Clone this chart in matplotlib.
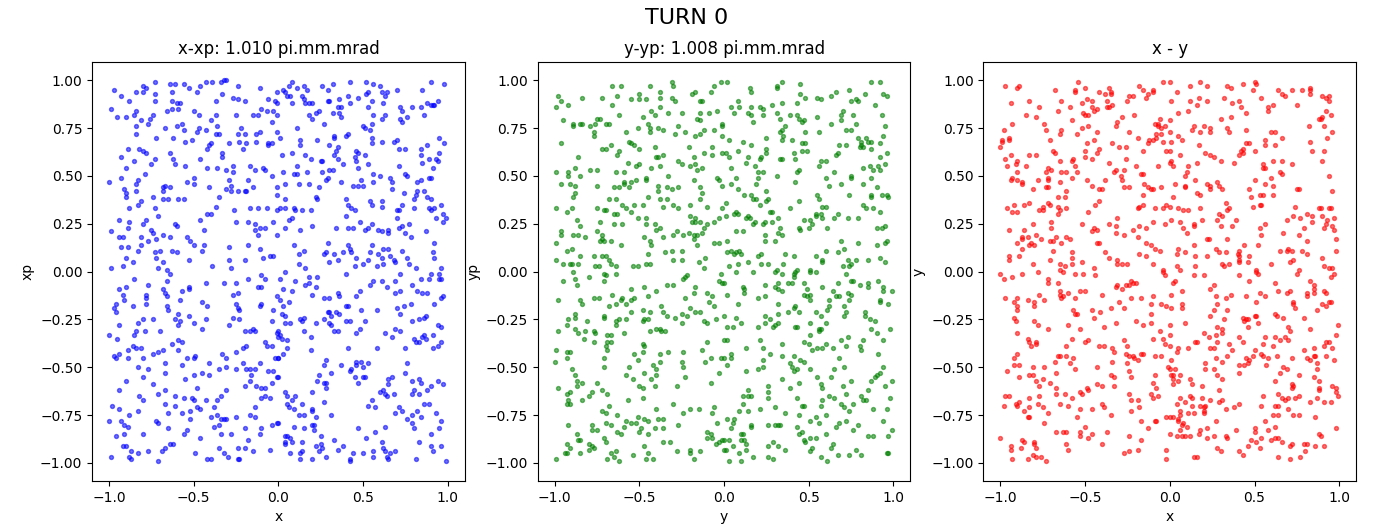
import numpy as np
import matplotlib
matplotlib.use("Agg")
import matplotlib.pyplot as plt

# Particle coordinates at turn 0, in hundredths of the normalised unit.
# Each list holds (horizontal, vertical) pairs for one phase-space view.
x_xp = [
    (-73,99),(-64,98),(-61,98),(-56,98),(-53,96),(-46,97),(-43,99),(-39,99),(-34,99),(-32,100),(-31,100),(-24,97),(-11,96),(-97,95),(-80,97),(-78,96),(-84,94),(-80,94),(-73,93),(-63,94),(-48,94),(-33,93),(-1,94),(-93,92),(-27,91),(-24,90),(-20,89),(-6,90),(-2,89),(-1,88),(-88,89),(-73,89),(-63,89),(-60,88),(-58,88),(-59,85),(-63,85),(-66,84),(-37,89),(-99,85),(-84,84),(-85,82),(-95,81),(-90,81),(-74,82),(-76,80),(-81,79),(-50,84),(-47,82),(-37,82),(-25,82),(-15,82),(-12,82),(-10,85),(-7,84),(-3,84),(-1,82),(-4,78),(-40,79),(-57,77),(-60,76),(-77,77),(-84,76),(-84,72),(-67,75),(-56,74),(-47,75),(-48,73),(-43,74),(-36,76),(-22,75),(-24,72),(-20,72),(-13,72),(-11,73),(-37,72),(-35,72),(-1,73),(-72,70),(-62,70),(-55,68),(-51,69),(-41,66),(-40,67),(-42,64),(-29,67),(-23,68),(-19,67),(-13,68),(-6,67),(-4,67),(-6,66),(-89,64),(-82,64),(-80,63),(-78,62),(-64,62),(-33,62),(-33,60),(-21,64),(-93,60),(-85,58),(-73,59),(-62,59),(-46,59),(-61,56),(-55,55),(-75,56),(-90,54),(-42,54),(-36,54),(-31,53),(-27,55),(-27,52),(-17,55),(-14,53),(-9,54),(-8,53),(-4,50),(-79,51),(-83,48),(-84,46),(-93,49),(-100,47),(-67,45),(-68,44),(-64,44),(-54,47),(-50,49),(-50,46),(-41,44),(-29,48),(-28,45),(-18,48),(-91,43),(-84,42),(-90,41),(-90,39),(-68,42),(-68,38),(-65,38),(-59,38),(-56,38),(-35,39),(-31,43),(-28,42),(-24,42),(-20,42),(-19,42),(-15,44),(-1,44),(-1,40),(-81,37),(-83,35),(-74,39),(-88,33),(-73,33),(-37,34),(-26,32),(-17,33),(-12,33),(-7,33),(-1,32),(-71,29),(-78,27),(-94,27),(-88,26),(-89,23),(-80,25),(-75,22),(-74,20),(-68,19),(-61,25),(-60,24),(-46,27),(-42,30),(-40,30),(-44,22),(-25,26),(-18,26),(-14,25),(-14,22),(-11,23),(-8,23),(-3,26),(-99,21),(-94,18),(-92,18),(-81,18),(-77,16),(-72,17),(-64,18),(-54,18),(-52,16),(-50,14),(-44,14),(-29,13),(-18,14),(-11,12),(-12,19),(-1,19),(-93,13),(-89,13),(-83,11),(-81,14),(-73,10),(-70,11),(-63,11),(-60,10),(-45,11),(-90,7),(-86,5),(-92,3),(-72,7),(-68,5),(-71,2),(-66,1),(-53,6),(-39,3),(-29,6),(-28,2),(-20,6),(-9,7),(-5,8),(-3,8),(-99,2),
    (8,99),(6,97),(3,95),(4,94),(11,96),(15,97),(17,95),(5,92),(7,92),(14,92),(15,90),(8,88),(18,88),(20,88),(16,88),(26,97),(32,98),(29,95),(42,99),(52,99),(56,98),(60,97),(53,94),(52,93),(61,94),(64,94),(63,92),(70,95),(85,95),(90,99),(98,98),(29,89),(30,89),(36,90),(41,92),(47,91),(42,88),(35,86),(37,86),(36,83),(32,83),(37,81),(55,89),(53,86),(56,82),(62,88),(63,82),(61,80),(72,86),(73,84),(72,80),(73,78),(76,81),(79,86),(84,86),(86,82),(88,88),(90,87),(91,87),(94,89),(92,87),(22,83),(24,84),(18,82),(20,80),(27,77),(11,75),(50,76),(51,75),(55,77),(54,74),(41,72),(40,71),(33,71),(33,70),(1,70),(13,69),(13,66),(23,69),(30,66),(35,65),(34,63),(33,61),(46,63),(47,62),(51,61),(45,60),(46,58),(55,70),(55,67),(61,68),(68,68),(70,69),(71,64),(75,64),(84,64),(88,66),(95,70),(98,67),(95,62),(93,59),(94,58),(89,59),(84,61),(85,57),(91,54),(2,61),(8,62),(16,61),(19,59),(25,58),(26,58),(35,59),(38,56),(47,54),(53,56),(71,55),(11,55),(17,52),(3,52),(9,51),(11,51),(26,52),(30,53),(32,53),(29,49),(28,48),(37,47),(12,46),(18,46),(24,44),(4,46),(44,45),(47,45),(50,45),(49,48),(56,51),(56,47),(60,50),(66,49),(67,47),(67,43),(74,41),(75,51),(76,50),(82,47),(84,48),(89,49),(90,49),(86,42),(88,39),(90,38),(82,42),(81,40),(80,38),(22,39),(23,38),(4,38),(40,38),(41,35),(43,33),(45,32),(54,37),(55,35),(61,37),(61,34),(70,32),(71,32),(73,35),(80,33),(89,33),(90,32),(92,33),(96,35),(93,28),(97,30),(99,28),(97,26),(1,33),(4,33),(9,33),(10,32),(14,32),(19,32),(8,28),(6,27),(4,23),(13,22),(20,24),(34,23),(41,23),(44,23),(40,29),(48,26),(51,22),(53,23),(55,25),(59,22),(61,21),(65,22),(65,20),(70,28),(71,23),(73,24),(77,25),(75,20),(78,18),(87,21),(92,15),(9,14),(12,9),(15,11),(12,4),(16,2),(29,15),(27,9),(28,10),(33,9),(30,5),(35,6),(38,10),(41,14),(42,12),(43,10),(46,7),(45,3),(50,4),(53,6),(55,14),(54,10),(59,9),(58,3),(62,12),(65,12),(61,7),(62,4),(66,8),(68,6),(69,5),(73,11),(76,7),(77,4),(81,2),(91,10),(92,7),(96,2),
    (-64,-1),(-85,-4),(-77,-7),(-66,-5),(-53,-8),(-53,-9),(-43,-6),(-32,-6),(-25,-6),(-18,-4),(-10,-2),(-8,-4),(-12,-8),(-10,-8),(-94,-9),(-90,-8),(-92,-12),(-91,-15),(-78,-12),(-78,-14),(-78,-17),(-68,-9),(-67,-11),(-66,-13),(-57,-10),(-58,-15),(-96,-17),(-97,-19),(-96,-21),(-86,-18),(-66,-18),(-65,-20),(-59,-22),(-53,-23),(-45,-16),(-42,-18),(-27,-12),(-24,-11),(-25,-17),(-24,-19),(-23,-20),(-10,-17),(-11,-18),(-1,-13),(-3,-20),(-80,-25),(-74,-25),(-83,-27),(-84,-31),(-85,-33),(-94,-28),(-100,-33),(-95,-35),(-79,-31),(-70,-31),(-61,-25),(-58,-26),(-59,-28),(-50,-27),(-45,-30),(-43,-25),(-29,-28),(-27,-24),(-23,-25),(-20,-31),(-17,-31),(-15,-30),(-14,-31),(-4,-26),(-1,-32),(0,-34),(-59,-36),(-57,-37),(-63,-38),(-81,-40),(-84,-40),(-86,-39),(-89,-41),(-94,-43),(-97,-44),(-96,-45),(-89,-45),(-80,-45),(-74,-43),(-71,-42),(-68,-41),(-59,-41),(-67,-48),(-57,-49),(-54,-45),(-50,-45),(-49,-44),(-41,-48),(-45,-53),(-41,-54),(-35,-51),(-33,-43),(-31,-45),(-31,-50),(-25,-42),(-25,-51),(-21,-40),(-19,-39),(-21,-48),(-19,-51),(-17,-51),(-14,-51),(-11,-48),(-8,-37),(-7,-39),(-4,-39),(-2,-45),(0,-45),(-6,-52),(-3,-52),(-1,-55),(-16,-54),(-17,-57),(-83,-50),(-77,-51),(-80,-55),(-67,-53),(-55,-56),(-50,-54),(-90,-57),(-74,-59),(-94,-62),(-82,-65),(-80,-67),(-71,-64),(-67,-62),(-61,-65),(-56,-66),(-51,-66),(-50,-67),(-48,-61),(-43,-67),(-38,-71),(-36,-67),(-34,-65),(-31,-62),(-20,-60),(-13,-60),(-10,-61),(-8,-61),(-4,-58),(-8,-65),(-10,-66),(-5,-66),(-98,-70),(-94,-72),(-83,-73),(-88,-75),(-67,-69),(-65,-74),(-61,-70),(-57,-74),(-52,-73),(-48,-71),(-46,-72),(-52,-77),(-40,-76),(-36,-75),(-34,-77),(-32,-77),(-31,-77),(-25,-76),(-17,-75),(-14,-71),(-14,-76),(-100,-78),(-93,-78),(-91,-80),(-89,-81),(-91,-85),(-96,-86),(-72,-78),(-71,-79),(-65,-82),(-80,-85),(-56,-85),(-54,-83),(-46,-87),(-38,-81),(-35,-80),(-34,-85),(-28,-85),(-20,-82),(-10,-82),(-11,-85),(-4,-80),(-1,-79),(-18,-88),(-92,-91),(-90,-91),(-87,-94),(-88,-97),(-87,-98),(-83,-95),(-77,-94),(-71,-99),(-69,-94),(-67,-92),(-64,-90),(-62,-90),(-99,-97),(-49,-95),(-42,-98),(-40,-98),(-35,-92),(-32,-95),(-30,-97),(-24,-98),(-23,-98),(-24,-92),(-20,-92),(-15,-94),(-5,-93),
    (4,0),(40,-1),(72,-1),(90,-1),(95,-1),(18,-3),(23,-3),(1,-4),(10,-5),(16,-7),(18,-6),(22,-8),(3,-9),(8,-10),(20,-12),(27,-14),(30,-14),(35,-11),(36,-13),(46,-13),(48,-10),(54,-7),(56,-5),(61,-5),(64,-8),(69,-5),(69,-11),(72,-10),(79,-7),(82,-10),(85,-11),(88,-11),(84,-4),(89,-4),(95,-4),(96,-4),(97,-13),(96,-14),(92,-17),(1,-15),(3,-18),(6,-16),(2,-22),(4,-23),(4,-27),(7,-27),(13,-25),(14,-26),(15,-24),(15,-31),(22,-27),(27,-25),(29,-21),(30,-21),(31,-23),(30,-27),(31,-28),(34,-21),(36,-22),(33,-31),(35,-31),(40,-18),(41,-18),(49,-20),(40,-26),(42,-26),(51,-26),(48,-30),(46,-32),(58,-20),(70,-19),(72,-22),(74,-18),(78,-17),(87,-23),(86,-24),(83,-25),(79,-26),(94,-28),(96,-29),(86,-33),(85,-34),(87,-35),(83,-37),(81,-37),(80,-35),(91,-33),(94,-39),(96,-37),(91,-40),(0,-31),(1,-33),(2,-35),(5,-36),(63,-32),(67,-34),(69,-30),(72,-31),(75,-40),(0,-45),(3,-43),(5,-40),(19,-34),(19,-41),(41,-40),(58,-40),(28,-46),(27,-49),(37,-49),(42,-52),(43,-51),(46,-47),(46,-49),(49,-47),(50,-50),(53,-48),(45,-55),(47,-58),(50,-55),(51,-55),(31,-53),(24,-54),(23,-57),(27,-58),(28,-58),(28,-61),(20,-63),(0,-55),(4,-63),(5,-65),(8,-67),(10,-65),(5,-69),(6,-71),(9,-72),(14,-69),(12,-75),(15,-75),(20,-72),(20,-73),(22,-76),(27,-68),(31,-75),(65,-56),(67,-55),(65,-59),(60,-63),(62,-62),(64,-65),(63,-64),(68,-64),(55,-67),(53,-70),(57,-71),(75,-53),(76,-48),(79,-57),(83,-56),(84,-58),(80,-62),(79,-64),(83,-64),(88,-62),(90,-60),(94,-57),(97,-59),(86,-69),(89,-69),(71,-71),(69,-74),(73,-73),(76,-77),(79,-75),(82,-73),(84,-76),(79,-79),(80,-82),(93,-74),(96,-78),(95,-82),(90,-85),(83,-89),(90,-91),(91,-94),(96,-91),(99,-99),(81,-98),(0,-79),(9,-81),(15,-82),(20,-80),(21,-80),(21,-83),(25,-86),(4,-86),(5,-86),(7,-87),(8,-89),(4,-89),(4,-90),(14,-89),(7,-95),(13,-95),(14,-94),(13,-98),(20,-98),(22,-91),(24,-94),(25,-90),(26,-92),(28,-97),(33,-88),(35,-93),(38,-91),(47,-82),(44,-95),(42,-98),(42,-99),(50,-95),(52,-87),(57,-84),(56,-94),(56,-97),(61,-89),(63,-81),(62,-92),(63,-94),(64,-97),(65,-98),(66,-95),(69,-94),
]

y_yp = [
    (-31,99),(-30,97),(-44,97),(-66,97),(-61,97),(-98,92),(-84,91),(-72,91),(-63,92),(-55,90),(-50,93),(-50,90),(-46,90),(-38,94),(-38,91),(-31,91),(-29,89),(-19,93),(-17,94),(-14,89),(-13,89),(-8,94),(-6,97),(-2,99),(-96,89),(-92,87),(-99,86),(-66,87),(-62,82),(-48,81),(-43,84),(-41,82),(-38,86),(-33,83),(-25,83),(-14,83),(-16,80),(-14,79),(-9,83),(-4,84),(-1,77),(-1,76),(-95,79),(-89,77),(-89,76),(-85,77),(-84,77),(-79,76),(-76,77),(-75,80),(-73,80),(-70,77),(-68,77),(-77,73),(-77,71),(-58,73),(-51,75),(-45,77),(-44,75),(-44,73),(-39,75),(-36,74),(-29,72),(-27,76),(-23,73),(-17,71),(-14,72),(-12,74),(-6,74),(-1,71),(-96,67),(-56,68),(-55,67),(-53,66),(-67,66),(-72,64),(-70,64),(-62,63),(-63,61),(-50,64),(-41,65),(-40,60),(-39,60),(-36,61),(-21,65),(-12,62),(-7,65),(-7,61),(-1,62),(-86,60),(-57,57),(-52,55),(-50,56),(-43,54),(-38,55),(-27,58),(-25,56),(-20,55),(-17,56),(-18,60),(-16,53),(-13,54),(-88,54),(-92,52),(-92,50),(-99,52),(-85,50),(-79,53),(-75,53),(-64,52),(-59,52),(-46,49),(-46,48),(-55,47),(-52,48),(-59,46),(-33,50),(-18,48),(-4,49),(-3,48),(-96,46),(-91,46),(-88,45),(-88,41),(-89,39),(-75,45),(-65,44),(-62,44),(-59,47),(-56,44),(-39,45),(-34,44),(-31,43),(-27,44),(-39,42),(-14,44),(-13,41),(-14,38),(-1,45),(-68,38),(-64,38),(-60,35),(-58,33),(-53,35),(-48,35),(-45,39),(-38,38),(-34,38),(-36,34),(-30,35),(-27,33),(-20,35),(-10,34),(-1,33),(-99,33),(-90,33),(-93,31),(-75,33),(-71,32),(-70,32),(-65,30),(-63,30),(-55,31),(-51,28),(-46,28),(-46,25),(-65,25),(-60,25),(-73,26),(-87,27),(-85,24),(-96,21),(-96,19),(-99,15),(-89,19),(-86,19),(-82,18),(-75,21),(-72,19),(-72,17),(-73,16),(-71,16),(-67,16),(-61,14),(-41,25),(-38,23),(-40,22),(-36,18),(-47,18),(-44,16),(-43,14),(-20,29),(-17,28),(-19,26),(-17,26),(-14,26),(-12,23),(-10,25),(-6,26),(-3,28),(-28,21),(-30,19),(-24,19),(-21,20),(-18,19),(-18,17),(-16,19),(-13,20),(-16,14),(-6,15),(-3,15),(-93,11),(-90,12),(-85,8),(-99,6),(-95,4),(-91,4),(-90,4),(-86,4),(-77,8),(-72,8),(-70,8),(-76,3),(-74,3),(-68,6),(-67,4),(-64,3),(-54,3),(-51,3),(-46,4),(-44,4),(-45,9),(-35,10),(-31,11),(-25,11),(-30,6),(-25,6),(-15,5),(-11,7),(-12,2),
    (2,99),(15,96),(16,94),(31,97),(31,96),(34,99),(45,98),(45,93),(48,91),(55,91),(57,90),(63,92),(66,94),(74,95),(78,90),(79,89),(83,93),(87,99),(92,99),(94,93),(96,92),(4,86),(8,89),(9,86),(6,83),(14,83),(16,86),(16,82),(17,78),(21,86),(23,85),(23,82),(28,87),(31,83),(33,80),(34,88),(39,82),(43,82),(44,80),(43,88),(46,78),(47,79),(55,81),(69,79),(69,82),(70,84),(76,82),(75,89),(63,77),(78,77),(89,87),(93,82),(95,76),(36,76),(34,74),(33,73),(35,71),(34,69),(25,70),(48,73),(56,73),(40,69),(46,67),(48,67),(72,74),(75,74),(79,70),(81,68),(84,70),(85,68),(87,68),(80,65),(82,65),(81,66),(87,64),(92,67),(94,71),(96,62),(92,60),(3,69),(11,68),(8,63),(16,66),(25,64),(25,62),(14,60),(3,60),(1,62),(22,60),(21,59),(13,57),(18,55),(20,52),(23,52),(4,54),(33,59),(34,59),(41,62),(46,63),(49,63),(42,59),(43,52),(44,53),(42,47),(31,50),(57,58),(60,58),(56,55),(66,61),(67,62),(68,66),(65,52),(60,49),(62,45),(69,46),(75,50),(75,49),(72,66),(82,54),(86,55),(88,53),(91,55),(92,53),(95,56),(87,49),(82,46),(90,44),(87,40),(87,39),(93,40),(96,40),(97,39),(74,40),(7,49),(4,46),(8,43),(12,40),(16,40),(17,38),(19,38),(19,46),(20,49),(25,42),(25,37),(26,38),(21,35),(44,37),(55,40),(56,38),(58,34),(60,34),(39,33),(1,36),(7,31),(6,30),(8,30),(1,29),(14,29),(13,28),(15,28),(18,26),(17,25),(23,25),(24,26),(28,31),(27,31),(32,28),(28,26),(33,23),(32,20),(34,19),(30,16),(24,19),(24,16),(7,21),(11,21),(2,16),(47,27),(44,23),(45,22),(50,23),(51,27),(52,25),(54,30),(54,29),(57,30),(58,28),(61,23),(65,28),(67,30),(73,28),(79,28),(82,35),(84,33),(88,33),(92,31),(90,23),(93,23),(95,24),(79,15),(90,14),(95,15),(96,16),(69,16),(71,12),(67,10),(60,11),(2,10),(4,11),(7,10),(6,9),(9,11),(10,9),(8,4),(3,3),(20,8),(22,9),(14,5),(22,4),(26,4),(31,1),(36,9),(35,4),(41,8),(43,1),(54,8),(58,6),(58,5),(51,1),(70,3),(73,6),(75,4),(74,3),(78,6),(85,6),(92,7),(95,5),
    (-89,0),(-95,-5),(-88,-4),(-87,-7),(-80,-3),(-71,-1),(-70,-2),(-71,-5),(-64,-1),(-24,-4),(-23,-3),(-22,-2),(-2,-1),(-3,-5),(-1,-6),(-55,-9),(-47,-8),(-40,-10),(-34,-7),(-30,-7),(-17,-8),(-18,-11),(-10,-11),(-7,-13),(-9,-16),(-23,-14),(-98,-15),(-85,-15),(-84,-17),(-77,-14),(-74,-14),(-66,-12),(-68,-18),(-64,-17),(-61,-15),(-60,-14),(-58,-17),(-55,-15),(-53,-14),(-45,-13),(-37,-18),(-36,-21),(-34,-23),(-48,-20),(-44,-21),(-45,-25),(-47,-25),(-48,-26),(-55,-21),(-20,-19),(-17,-21),(-14,-21),(-25,-22),(-29,-24),(-25,-27),(-22,-23),(-12,-26),(-10,-27),(-5,-25),(0,-23),(-6,-18),(-88,-22),(-88,-24),(-92,-25),(-93,-28),(-88,-30),(-86,-32),(-82,-31),(-83,-35),(-81,-26),(-77,-31),(-76,-32),(-71,-23),(-71,-24),(-64,-26),(-62,-25),(-64,-28),(-58,-25),(-69,-33),(-67,-33),(-59,-32),(-98,-31),(-77,-37),(-69,-37),(-67,-37),(-70,-39),(-69,-41),(-71,-45),(-71,-50),(-99,-41),(-93,-42),(-91,-42),(-93,-45),(-100,-47),(-90,-51),(-88,-54),(-87,-57),(-84,-58),(-87,-60),(-98,-61),(-93,-64),(-91,-63),(-92,-67),(-93,-69),(-91,-69),(-84,-67),(-80,-65),(-78,-63),(-75,-58),(-72,-62),(-69,-64),(-48,-38),(-47,-39),(-53,-43),(-51,-46),(-48,-42),(-56,-50),(-58,-54),(-54,-56),(-50,-60),(-48,-61),(-47,-53),(-43,-56),(-42,-49),(-40,-51),(-40,-54),(-41,-60),(-48,-66),(-57,-67),(-44,-31),(-40,-30),(-38,-30),(-37,-31),(-35,-31),(-38,-43),(-38,-47),(-33,-42),(-24,-42),(-25,-47),(-24,-50),(-23,-55),(-28,-60),(-13,-41),(-10,-37),(-8,-45),(-11,-47),(-2,-45),(-3,-53),(-8,-58),(0,-36),(-30,-69),(-24,-74),(-20,-72),(-15,-72),(-6,-71),(-7,-74),(-4,-79),(-1,-88),(-3,-89),(-5,-90),(-7,-87),(-8,-85),(-10,-84),(-10,-87),(0,-93),(-14,-94),(-18,-98),(-20,-93),(-20,-95),(-28,-94),(-32,-89),(-36,-89),(-27,-80),(-36,-77),(-36,-82),(-39,-77),(-40,-72),(-41,-82),(-45,-78),(-47,-77),(-51,-76),(-52,-79),(-50,-84),(-49,-82),(-45,-85),(-47,-91),(-45,-95),(-46,-98),(-42,-98),(-54,-96),(-63,-75),(-68,-70),(-72,-73),(-70,-74),(-70,-79),(-67,-80),(-63,-84),(-61,-85),(-59,-81),(-58,-78),(-55,-79),(-92,-80),(-78,-80),(-78,-83),(-75,-83),(-87,-85),(-86,-88),(-85,-88),(-80,-90),(-78,-91),(-77,-92),(-80,-93),(-93,-90),(-91,-92),(-94,-95),(-93,-95),(-85,-95),(-71,-87),(-70,-89),(-67,-95),(-64,-94),(-69,-98),(-65,-97),(-62,-99),(-99,-98),
    (7,0),(17,0),(30,0),(34,-1),(41,-1),(42,0),(51,0),(54,0),(72,-1),(0,-6),(2,-12),(11,-8),(12,-9),(12,-11),(24,-7),(30,-8),(32,-6),(32,-9),(34,-10),(38,-6),(40,-6),(41,-3),(47,-6),(49,-9),(47,-12),(49,-13),(51,-12),(51,-15),(58,-8),(64,-10),(67,-6),(66,-13),(68,-13),(62,-15),(62,-18),(61,-20),(73,-11),(75,-12),(74,-15),(75,-5),(76,-5),(80,-7),(85,-6),(85,-8),(91,-5),(94,-8),(94,-10),(99,-10),(92,-15),(92,-16),(97,-17),(71,-18),(72,-21),(71,-23),(83,-21),(83,-23),(86,-25),(89,-26),(87,-30),(90,-32),(98,-30),(94,-36),(91,-43),(82,-36),(80,-39),(81,-41),(73,-34),(72,-39),(69,-36),(68,-45),(71,-50),(65,-51),(63,-55),(58,-40),(55,-40),(52,-41),(50,-38),(51,-33),(51,-27),(56,-30),(56,-31),(57,-30),(60,-27),(54,-21),(57,-23),(64,-40),(60,-38),(47,-37),(41,-44),(39,-48),(40,-50),(41,-52),(43,-51),(45,-46),(47,-47),(51,-51),(55,-55),(34,-38),(34,-44),(27,-43),(23,-46),(23,-50),(20,-51),(23,-40),(21,-36),(13,-40),(4,-43),(4,-45),(2,-49),(0,-45),(2,-36),(2,-29),(5,-29),(7,-24),(10,-27),(8,-17),(20,-14),(24,-13),(32,-17),(32,-22),(38,-21),(42,-18),(41,-19),(44,-21),(24,-23),(24,-27),(27,-25),(29,-29),(30,-28),(32,-27),(20,-29),(42,-29),(43,-29),(13,-52),(34,-56),(44,-58),(39,-61),(26,-60),(26,-63),(26,-66),(14,-62),(14,-65),(16,-65),(11,-65),(11,-69),(9,-73),(14,-73),(21,-72),(30,-71),(36,-74),(44,-75),(46,-70),(47,-70),(43,-66),(57,-70),(58,-67),(57,-59),(58,-61),(62,-65),(65,-66),(69,-69),(71,-71),(74,-73),(70,-60),(72,-64),(75,-57),(76,-69),(81,-65),(82,-67),(84,-67),(85,-62),(87,-57),(89,-55),(90,-54),(92,-53),(94,-50),(95,-60),(99,-57),(98,-66),(88,-72),(96,-72),(94,-78),(99,-83),(97,-86),(96,-95),(97,-95),(79,-80),(76,-83),(72,-78),(68,-79),(66,-81),(60,-75),(54,-76),(51,-78),(56,-79),(60,-85),(64,-90),(63,-92),(67,-96),(57,-97),(61,-99),(52,-92),(51,-94),(51,-87),(54,-87),(47,-88),(48,-89),(44,-85),(46,-84),(43,-81),(32,-80),(33,-80),(30,-80),(26,-80),(16,-80),(16,-81),(26,-91),(29,-89),(32,-91),(36,-93),(26,-97),(29,-98),(17,-97),(10,-85),(11,-85),(10,-88),(12,-88),(13,-90),(13,-93),(4,-82),(2,-77),(6,-77),(5,-79),(3,-88),(5,-91),(9,-95),(3,-99),(10,-99),(74,-96),(81,-96),(78,-93),(85,-86),(88,-86),(0,-88),(1,-93),
]

x_y = [
    (-97,97),(-90,96),(-89,97),(-68,95),(-56,95),(-56,94),(-54,99),(-50,96),(-42,94),(-38,93),(-36,96),(-35,93),(-35,94),(-24,92),(-22,92),(-25,89),(-18,97),(-16,95),(-13,93),(-10,95),(-10,94),(-4,99),(-94,88),(-83,89),(-77,86),(-64,89),(-66,84),(-59,86),(-52,88),(-49,90),(-46,89),(-46,86),(-43,85),(-45,84),(-48,82),(-51,83),(-50,82),(-37,89),(-36,86),(-34,87),(-37,86),(-28,81),(-21,82),(-31,78),(-32,76),(-24,73),(-19,70),(-14,91),(-85,82),(-79,81),(-93,77),(-74,77),(-73,74),(-58,79),(-48,76),(-52,75),(-55,72),(-65,72),(-64,74),(-71,69),(-43,73),(-45,69),(-49,67),(-34,67),(-30,65),(-26,65),(-16,63),(-13,67),(-10,69),(-8,70),(-12,69),(-6,80),(-7,77),(-9,77),(-7,76),(-5,75),(-3,76),(-5,72),(-8,72),(-4,68),(-2,63),(-7,55),(-98,74),(-99,68),(-99,69),(-100,65),(-95,70),(-95,69),(-97,59),(-94,61),(-96,55),(-90,58),(-91,56),(-83,61),(-79,61),(-85,55),(-90,52),(-93,49),(-94,48),(-90,48),(-87,47),(-87,46),(-78,48),(-81,43),(-73,52),(-72,54),(-72,49),(-72,48),(-70,53),(-69,63),(-68,62),(-65,58),(-64,52),(-61,52),(-58,58),(-57,59),(-56,55),(-55,52),(-58,49),(-65,47),(-73,44),(-72,44),(-50,63),(-50,60),(-46,59),(-42,64),(-43,62),(-36,57),(-32,53),(-33,52),(-29,50),(-28,48),(-27,53),(-26,59),(-20,55),(-17,51),(-16,51),(-49,48),(-46,45),(-42,43),(-40,43),(-38,48),(-27,44),(-24,44),(-15,46),(-13,44),(-11,43),(-10,43),(-5,44),(-16,40),(-9,33),(-4,33),(-2,35),(-19,33),(-18,34),(-16,35),(-31,28),(-32,24),(-32,20),(-36,25),(-27,19),(-44,35),(-42,37),(-48,31),(-45,23),(-43,22),(-46,21),(-43,15),(-42,15),(-38,10),(-52,25),(-61,33),(-61,42),(-62,39),(-66,39),(-66,34),(-65,32),(-66,30),(-70,26),(-70,23),(-72,36),(-71,35),(-75,34),(-75,32),(-77,32),(-83,36),(-86,35),(-92,35),(-93,31),(-90,31),(-96,33),(-95,22),(-81,25),(-86,22),(-87,18),(-87,17),(-84,18),(-83,14),(-90,15),(-87,12),(-82,15),(-80,14),(-79,19),(-76,17),(-71,16),(-69,16),(-69,11),(-67,18),(-64,15),(-61,18),(-59,17),(-58,10),(-58,7),(-71,6),(-65,4),(-65,1),(-62,3),(-58,4),(-52,5),(-45,2),(-95,8),(-95,6),(-89,8),(-81,4),(-22,22),(-18,24),(-14,23),(-10,26),(-3,25),(-19,18),(-14,15),(-11,14),(-9,12),(-6,11),(-18,9),(-14,8),(-36,7),(-31,6),(-31,4),(-28,4),(-25,4),(-10,4),(-4,1),
    (0,99),(12,97),(18,99),(22,97),(4,94),(1,89),(5,83),(11,84),(12,89),(16,87),(17,91),(22,89),(32,91),(34,97),(36,96),(43,98),(49,95),(50,99),(51,98),(37,88),(41,89),(42,86),(45,83),(54,91),(58,86),(58,84),(61,87),(64,95),(66,93),(68,92),(72,95),(75,87),(78,95),(83,96),(83,95),(83,93),(90,92),(92,91),(94,92),(94,89),(88,80),(89,80),(90,81),(92,84),(95,82),(91,76),(96,73),(93,70),(82,76),(83,68),(84,63),(91,63),(90,58),(94,50),(96,42),(0,79),(30,80),(36,81),(13,74),(14,76),(20,76),(18,73),(24,75),(24,73),(34,75),(35,73),(45,74),(0,73),(5,71),(7,69),(1,68),(17,66),(0,63),(6,61),(21,62),(24,61),(26,60),(30,58),(16,57),(1,58),(0,57),(2,55),(11,55),(10,52),(9,50),(15,48),(3,46),(9,45),(42,63),(43,62),(41,61),(43,64),(45,67),(47,67),(50,63),(38,57),(56,69),(56,66),(60,73),(62,73),(66,70),(62,66),(55,56),(56,54),(55,54),(61,58),(66,58),(65,52),(66,51),(72,56),(60,49),(50,48),(56,46),(47,43),(48,39),(53,40),(55,40),(61,45),(61,40),(75,43),(76,43),(28,47),(29,45),(31,43),(24,45),(24,43),(22,46),(18,40),(16,41),(9,44),(2,39),(0,34),(5,33),(8,32),(11,32),(1,27),(6,26),(8,23),(10,20),(14,25),(14,24),(18,33),(19,27),(33,36),(35,33),(34,32),(29,30),(28,27),(31,29),(30,24),(39,27),(37,24),(34,17),(23,17),(22,17),(53,35),(54,35),(49,34),(53,23),(56,25),(54,19),(67,20),(74,34),(73,29),(69,27),(77,28),(81,30),(79,23),(76,19),(81,16),(84,29),(84,26),(88,33),(89,33),(94,33),(95,33),(90,29),(93,27),(92,25),(91,23),(97,28),(96,24),(97,22),(98,17),(98,11),(90,7),(91,3),(94,2),(96,2),(4,9),(9,10),(5,12),(14,14),(15,8),(22,8),(27,12),(29,10),(33,10),(15,3),(4,3),(6,1),(31,4),(32,3),(44,14),(41,11),(40,9),(41,8),(41,5),(41,6),(35,4),(47,8),(46,5),(52,14),(51,1),(60,4),(65,11),(70,12),(69,11),(72,11),(71,5),(73,6),(78,11),(81,9),(76,1),
    (-100,-1),(-98,-4),(-93,-3),(-87,-1),(-78,0),(-72,-4),(-72,-6),(-66,-6),(-63,0),(-56,-1),(-51,-1),(-44,-2),(-65,-10),(-65,-12),(-64,-14),(-63,-13),(-60,-11),(-53,-10),(-50,-10),(-56,-14),(-77,-12),(-74,-15),(-80,-16),(-80,-18),(-84,-15),(-90,-14),(-92,-16),(-90,-18),(-90,-20),(-97,-14),(-92,-24),(-91,-26),(-80,-26),(-78,-28),(-72,-30),(-90,-32),(-84,-35),(-83,-37),(-82,-39),(-79,-37),(-79,-38),(-92,-45),(-90,-43),(-92,-49),(-89,-49),(-96,-52),(-89,-55),(-81,-50),(-83,-54),(-81,-54),(-79,-57),(-77,-60),(-75,-56),(-74,-50),(-71,-58),(-68,-47),(-66,-44),(-65,-44),(-67,-53),(-67,-61),(-67,-64),(-61,-44),(-59,-48),(-57,-45),(-61,-39),(-58,-35),(-56,-51),(-60,-28),(-57,-20),(-56,-22),(-55,-22),(-53,-30),(-46,-20),(-45,-24),(-50,-37),(-48,-36),(-42,-39),(-39,-39),(-43,-50),(-40,-12),(-41,-21),(-35,-19),(-39,-29),(-32,-27),(-30,-16),(-27,-19),(-32,-8),(-31,-7),(-28,-9),(-26,-7),(-24,-7),(-23,-5),(-22,-6),(-20,-6),(-23,-14),(-17,-14),(-20,-26),(-16,-28),(-11,-22),(-11,-27),(-11,-17),(-10,-13),(-5,-17),(-2,-18),(-4,0),(-3,-2),(-34,-40),(-33,-42),(-34,-47),(-27,-36),(-25,-39),(-26,-43),(-24,-44),(-22,-44),(-21,-45),(-19,-46),(-17,-43),(-16,-43),(-25,-48),(-24,-52),(-23,-55),(-35,-54),(-33,-55),(-33,-60),(-43,-59),(-40,-60),(-10,-35),(-6,-31),(-4,-35),(-3,-38),(-9,-44),(-5,-44),(-1,-50),(-9,-54),(-10,-58),(-8,-61),(-11,-64),(-10,-66),(-7,-65),(-19,-67),(-23,-67),(-24,-64),(-18,-71),(-23,-73),(-17,-78),(-13,-82),(-9,-78),(-8,-78),(-2,-76),(-35,-75),(-40,-69),(-39,-71),(-46,-72),(-50,-81),(-53,-84),(-53,-86),(-46,-85),(-48,-87),(-53,-72),(-55,-76),(-60,-70),(-65,-69),(-62,-64),(-58,-66),(-53,-63),(-52,-64),(-49,-61),(-48,-62),(-37,-84),(-40,-90),(-63,-84),(-61,-84),(-67,-84),(-61,-90),(-60,-93),(-72,-74),(-74,-79),(-75,-71),(-78,-69),(-77,-65),(-83,-66),(-83,-71),(-90,-70),(-91,-69),(-89,-68),(-86,-73),(-84,-76),(-83,-76),(-98,-70),(-97,-65),(-95,-65),(-100,-87),(-94,-91),(-94,-93),(-93,-98),(-88,-92),(-87,-88),(-86,-89),(-80,-89),(-80,-90),(-79,-92),(-84,-98),(-81,-96),(-79,-97),(-76,-97),(-73,-99),(-27,-95),(-24,-94),(-24,-86),(-19,-93),(-17,-88),(-2,-93),(-2,-98),
    (14,-2),(20,-2),(41,-2),(51,0),(52,-1),(75,-1),(95,-3),(97,-1),(2,-6),(3,-5),(7,-10),(1,-12),(7,-17),(7,-19),(1,-19),(24,-9),(26,-7),(27,-13),(28,-17),(33,-14),(36,-12),(47,-5),(45,-13),(51,-16),(53,-11),(56,-13),(62,-6),(64,-10),(69,-11),(71,-10),(73,-16),(73,-17),(74,-19),(81,-11),(81,-13),(83,-5),(85,-7),(85,-9),(85,-11),(91,-10),(92,-11),(95,-16),(94,-16),(90,-17),(87,-20),(92,-18),(79,-24),(83,-30),(99,-28),(98,-33),(92,-37),(91,-39),(94,-37),(96,-40),(97,-46),(85,-40),(79,-41),(81,-45),(83,-46),(85,-44),(86,-44),(87,-48),(87,-51),(92,-44),(85,-55),(88,-57),(88,-61),(88,-62),(96,-60),(98,-61),(99,-65),(98,-63),(91,-68),(95,-68),(87,-66),(83,-68),(86,-76),(98,-82),(88,-85),(89,-86),(86,-91),(91,-91),(79,-90),(81,-90),(80,-94),(77,-97),(71,-98),(64,-97),(72,-90),(71,-91),(66,-89),(62,-87),(64,-87),(60,-88),(58,-83),(62,-81),(50,-84),(50,-82),(53,-92),(54,-87),(51,-89),(48,-88),(46,-91),(41,-94),(43,-96),(56,-78),(61,-75),(64,-75),(64,-70),(62,-70),(68,-67),(70,-66),(72,-59),(73,-60),(72,-61),(76,-65),(74,-66),(76,-75),(73,-75),(70,-72),(64,-64),(66,-66),(55,-65),(54,-70),(41,-69),(38,-71),(39,-83),(33,-86),(34,-87),(26,-86),(28,-92),(30,-94),(22,-87),(27,-78),(22,-82),(18,-83),(17,-85),(14,-97),(16,-97),(12,-86),(9,-86),(7,-86),(4,-86),(6,-83),(0,-85),(10,-81),(8,-79),(7,-80),(5,-78),(5,-77),(6,-75),(0,-76),(2,-76),(6,-73),(11,-74),(14,-74),(20,-74),(20,-73),(20,-71),(21,-70),(18,-70),(13,-70),(9,-68),(6,-66),(4,-69),(12,-65),(13,-66),(19,-66),(19,-60),(24,-67),(29,-68),(31,-67),(29,-62),(33,-72),(12,-56),(13,-59),(1,-54),(2,-54),(6,-54),(2,-56),(5,-57),(2,-59),(3,-51),(0,-51),(1,-46),(5,-40),(4,-42),(0,-39),(0,-33),(0,-28),(9,-27),(15,-37),(16,-37),(11,-40),(20,-32),(23,-34),(28,-29),(31,-30),(31,-32),(27,-33),(24,-40),(26,-40),(28,-37),(21,-48),(21,-51),(27,-45),(26,-51),(28,-54),(31,-47),(31,-56),(34,-44),(35,-38),(37,-41),(41,-49),(41,-53),(41,-34),(43,-37),(44,-49),(46,-48),(45,-45),(47,-46),(49,-44),(50,-41),(54,-43),(55,-44),(57,-49),(55,-38),(56,-34),(61,-39),(62,-34),(65,-36),(58,-45),(63,-44),(68,-34),(70,-36),(72,-45),(67,-50),(69,-51),(65,-53),(62,-57),(76,-54),(43,-24),(45,-25),(46,-25),(44,-26),(46,-29),(50,-23),(51,-23),(52,-27),(32,-25),(34,-20),(26,-20),(24,-23),(62,-22),(63,-23),(67,-24),(70,-29),(71,-31),
]

turn = 0
emit_x = 1.010  # pi.mm.mrad
emit_y = 1.008

panels = [
    (x_xp, "blue", "x", "xp", f"x-xp: {emit_x:.3f} pi.mm.mrad"),
    (y_yp, "green", "y", "yp", f"y-yp: {emit_y:.3f} pi.mm.mrad"),
    (x_y, "red", "x", "y", "x - y"),
]

fig, axes = plt.subplots(1, 3, figsize=(13.74, 5.31), dpi=100)
fig.subplots_adjust(left=0.067, right=0.987, bottom=0.094, top=0.883, wspace=0.196)

for ax, (pts, color, xlab, ylab, title) in zip(axes, panels):
    arr = np.array(pts, dtype=float) / 100.0
    ax.scatter(arr[:, 0], arr[:, 1], s=8, color=color, alpha=0.55)
    ax.set_xlim(-1.1, 1.1)
    ax.set_ylim(-1.095, 1.095)
    ax.set_xlabel(xlab)
    ax.set_ylabel(ylab)
    ax.set_title(title)

fig.suptitle(f"TURN {turn}", fontsize=16, y=0.985)
fig.savefig("out.png", dpi=100)
